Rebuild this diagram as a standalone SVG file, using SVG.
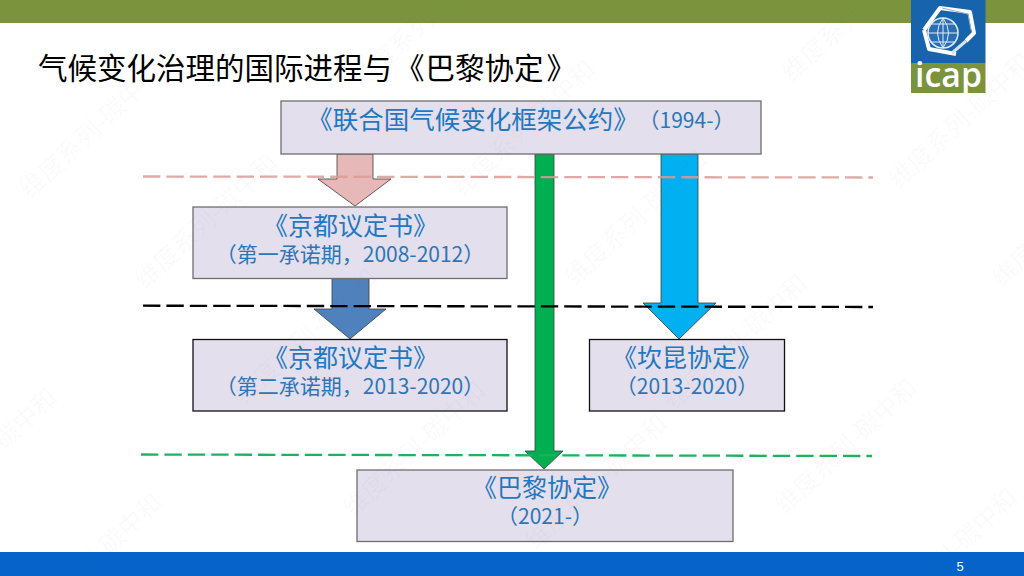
<svg xmlns="http://www.w3.org/2000/svg" width="1024" height="576" viewBox="0 0 1024 576">
<style>
text{font-family:"Noto Sans CJK SC","Liberation Sans",sans-serif}
.box{fill:#e4dfec;stroke-width:1.3}
.gray{stroke:#6e6e72}
.dark{stroke:#111}
.t1{font-size:25px;fill:#1f78c1;text-anchor:middle}
.t2{font-size:21px;fill:#2e75b6;text-anchor:middle}
.dash{fill:none;stroke-width:2.300;stroke-dasharray:17.4 6}
.arrow{stroke:#3c3c3c;stroke-width:.8}
.wm text{font-size:25px;fill:#777;fill-opacity:.04}
</style>
<rect width="1024" height="576" fill="#fff"/>
<rect id="top-band" width="1024" height="23" fill="#7a933c"/>
<rect id="bottom-band" y="552" width="1024" height="24" fill="#0563c9"/>
<g id="logo">
<rect x="911" y="0" width="74.500" height="63" fill="#1764ad"/>
<rect x="911" y="63" width="74.500" height="30" fill="#7a933c"/>
<path d="M924 30 940 8 970 12 974 33 966 41M956 54 929 49 924 30" fill="none" stroke="#fff" stroke-width="4" stroke-linejoin="round"/>
<path d="M942 8 968 14 971 30" fill="none" stroke="#8fb4d8" stroke-width="1"/>
<path d="M966 41 952 53" fill="none" stroke="#d5e4f2" stroke-width="3"/>
<circle cx="943" cy="33" r="15" fill="#2a6fb6" stroke="#e3edf6" stroke-width="1.500"/>
<path d="M928 33H958M931 24H955M931 42H955M943 18V48M943 18Q932 33 943 48M943 18Q954 33 943 48" fill="none" stroke="#e3edf6" stroke-width="1"/>
<text x="948.500" y="87" font-size="34" font-weight="600" fill="#fff" text-anchor="middle" style="font-family:'Open Sans','Liberation Sans',sans-serif" textLength="67" lengthAdjust="spacingAndGlyphs">icap</text>
</g>
<text id="title" x="38" y="79" font-size="29.500" fill="#000">气候变化治理的国际进程与<tspan dx="3">《</tspan><tspan dx="1">巴黎协定</tspan><tspan dx="3">》</tspan></text>
<g id="connectors">
<path class="arrow" fill="#e6b8b7" d="M337 154H373V179H391L355 206 318 179H337Z"/>
<path class="arrow" fill="#4f81bd" d="M332 278H369V309H386L350 339 314 309H332Z"/>
<path class="arrow" fill="#00b050" d="M535 154H554V451H563L544 469 525 451H535Z"/>
<path class="arrow" fill="#00b0f0" d="M661 154H698V303H716L679 339 643 303H661Z"/>
<path class="dash" stroke="#dc9a97" stroke-opacity=".85" d="M143 176.500 873 177.500"/>
<path class="dash" stroke="#000" d="M143 305.700 873 307"/>
<path class="dash" stroke="#1fb25c" d="M141 454.500 872 456"/>
</g>
<g id="node-unfccc">
<rect class="box gray" x="281" y="101" width="480" height="53"/>
<text class="t1" x="473" y="128.500" style="font-size:25.500px">《联合国气候变化框架公约》</text>
<text class="t2" x="686.500" y="128">（1994-）</text>
</g>
<g id="node-kyoto1">
<rect class="box gray" x="193" y="207" width="314" height="71.500"/>
<text class="t1" x="350.500" y="234.500">《京都议定书》</text>
<text class="t2" x="350" y="262">（第一承诺期，2008-2012）</text>
</g>
<g id="node-kyoto2">
<rect class="box dark" x="193" y="339.500" width="314" height="71.500"/>
<text class="t1" x="350.500" y="367">《京都议定书》</text>
<text class="t2" x="350" y="394">（第二承诺期，2013-2020）</text>
</g>
<g id="node-cancun">
<rect class="box dark" x="589.500" y="339.500" width="195" height="71.500"/>
<text class="t1" x="687" y="367">《坎昆协定》</text>
<text class="t2" x="687" y="394">（2013-2020）</text>
</g>
<g id="node-paris">
<rect class="box gray" x="357" y="470" width="376" height="71.500"/>
<text class="t1" x="547" y="497">《巴黎协定》</text>
<text class="t2" x="545" y="524">（2021-）</text>
</g>
<text id="page-number" x="960" y="571" font-size="13" fill="#fff" text-anchor="middle" style="font-family:'Liberation Sans',sans-serif">5</text>
<g id="watermark" class="wm">
<text transform="translate(30 200) rotate(-43)">维度系列-碳中和</text>
<text transform="translate(145 290) rotate(-43)">维度系列-碳中和</text>
<text transform="translate(363 90) rotate(-43)">维度系列-碳中和</text>
<text transform="translate(463 197) rotate(-43)">维度系列-碳中和</text>
<text transform="translate(575 287) rotate(-43)">维度系列-碳中和</text>
<text transform="translate(792 83) rotate(-43)">维度系列-碳中和</text>
<text transform="translate(899 190) rotate(-43)">维度系列-碳中和</text>
<text transform="translate(1002 288) rotate(-43)">维度系列-碳中和</text>
<text transform="translate(675 411) rotate(-43)">维度系列-碳中和</text>
<text transform="translate(785 515) rotate(-43)">维度系列-碳中和</text>
<text transform="translate(-75 525) rotate(-43)">维度系列-碳中和</text>
<text transform="translate(30 630) rotate(-43)">维度系列-碳中和</text>
<text transform="translate(245 405) rotate(-43)">维度系列-碳中和</text>
<text transform="translate(353 518) rotate(-43)">维度系列-碳中和</text>
<text transform="translate(535 551) rotate(-43)">维度系列-碳中和</text>
<text transform="translate(885 625) rotate(-43)">维度系列-碳中和</text>
</g>
</svg>
